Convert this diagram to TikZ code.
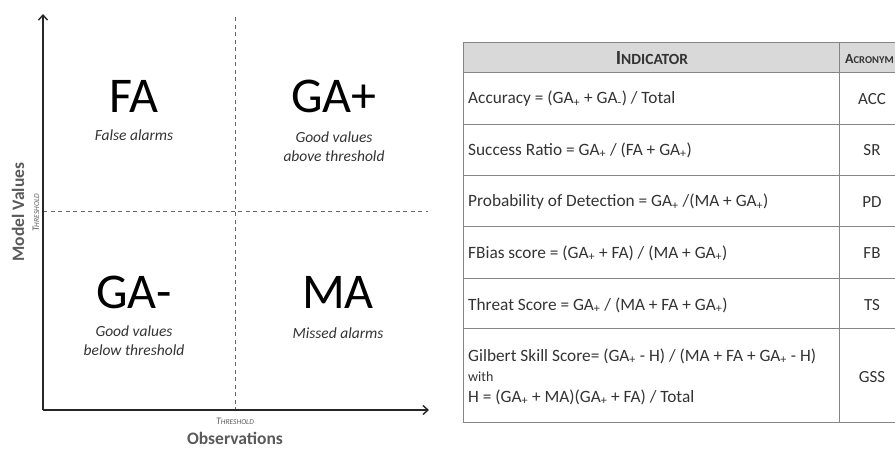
\documentclass[tikz,border=0pt]{standalone}
\usepackage{fontspec}
\setmainfont{Carlito}
\usetikzlibrary{arrows.meta}
\definecolor{txt}{HTML}{333333}
\definecolor{axlab}{HTML}{5A5A5A}
\definecolor{grid}{HTML}{858585}
\definecolor{head}{HTML}{D9D9D9}
\newcommand{\smc}[2]{{\fontsize{#1}{#1}\selectfont #2}}
\newcommand{\sbp}{\textsubscript{+}}
\begin{document}
\begin{tikzpicture}[x=1pt,y=-1pt,
  big/.style={font=\fontsize{50}{50}\selectfont, text=black, inner sep=0pt},
  lab/.style={font=\fontsize{15.5}{19}\selectfont\itshape, text=txt, align=center, inner sep=0pt},
  axis/.style={line width=1.4pt, black!85, -{Straight Barb[length=5pt,width=9pt,line width=1.4pt]}},
  thr/.style={dashed, dash pattern=on 4pt off 3.5pt, line width=0.8pt, black!60},
  axtitle/.style={font=\fontsize{17.5}{17.5}\selectfont\bfseries, text=axlab, inner sep=0pt},
  cell/.style={anchor=west, font=\fontsize{17.3}{20}\selectfont, text=txt, inner sep=0pt},
  acr/.style={font=\fontsize{17}{20}\selectfont, text=txt, inner sep=0pt},
  gridline/.style={line width=0.8pt, draw=grid}]
\useasboundingbox (0,0) rectangle (895,448);
\clip (0,0) rectangle (895,448);

% ---------- left panel ----------
\coordinate (O) at (43,410);
\coordinate (ytop) at (43,14);
\coordinate (xend) at (429,410);
\coordinate (vt) at (235,17);
\coordinate (vb) at (235,410);
\coordinate (hl) at (43,211);
\coordinate (hr) at (428,211);

\draw[thr] (vt) -- (vb);
\draw[thr] (hl) -- (hr);
\draw[axis] (O) -- (ytop);
\draw[axis] (O) -- (xend);

\node[big] (fa) at (134,96) {FA};
\node[lab] (fal) at (134,135) {False alarms};
\node[big] (gap) at (334,96) {GA+};
\node[lab] (gapl) at (334,147) {Good values\\above threshold};
\node[big] (gam) at (134,292) {GA-};
\node[lab] (gaml) at (134,341) {Good values\\below threshold};
\node[big] (ma) at (338,292) {MA};
\node[lab] (mal) at (338,333) {Missed alarms};

\node[axtitle, rotate=90] (mv) at (18,212) {Model Values};
\node[inner sep=0pt, rotate=90, text=axlab, font=\itshape] (thy) at (36,213) {\smc{10}{T}\smc{7.5}{HRESHOLD}};
\node[inner sep=0pt, text=axlab, font=\itshape] (thx) at (235,421) {\smc{10}{T}\smc{7.5}{HRESHOLD}};
\node[axtitle] (obs) at (235,438) {Observations};

% ---------- table ----------
\fill[head] (463,42) rectangle (895,72);
\draw[gridline] (463,42) -- (895,42);
\draw[gridline] (463,72) -- (895,72);
\draw[gridline] (463,124) -- (895,124);
\draw[gridline] (463,175) -- (895,175);
\draw[gridline] (463,226) -- (895,226);
\draw[gridline] (463,278) -- (895,278);
\draw[gridline] (463,328) -- (895,328);
\draw[gridline] (463,422) -- (895,422);
\draw[gridline] (463,42) -- (463,422);
\draw[gridline] (839,42) -- (839,422);

\node[inner sep=0pt, text=txt, font=\bfseries] (hind) at (652,58) {\smc{20}{I}\smc{15.5}{NDICATOR}};
\node[inner sep=0pt, text=txt, font=\bfseries, anchor=west] (hacr) at (845,59) {\smc{14}{A}\smc{10.5}{CRONYM}};

\node[cell] (c1) at (468,99) {Accuracy = (GA\sbp{} + GA\textsubscript{-}) / Total};
\node[acr] (a1) at (872,99) {ACC};
\node[cell] (c2) at (468,150) {Success Ratio = GA\sbp{} / (FA + GA\sbp)};
\node[acr] (a2) at (872,150) {SR};
\node[cell] (c3) at (468,202) {Probability of Detection = GA\sbp{} /(MA + GA\sbp)};
\node[acr] (a3) at (872,202) {PD};
\node[cell] (c4) at (468,253) {FBias score = (GA\sbp{} + FA) / (MA + GA\sbp)};
\node[acr] (a4) at (872,253) {FB};
\node[cell] (c5) at (468,305) {Threat Score = GA\sbp{} / (MA + FA + GA\sbp)};
\node[acr] (a5) at (872,305) {TS};
\node[cell] (c6) at (468,356) {Gilbert Skill Score= (GA\sbp{} - H) / (MA + FA + GA\sbp{} - H)};
\node[cell, font=\fontsize{14}{16}\selectfont] (c6w) at (468,377) {with};
\node[cell] (c6h) at (468,397) {H = (GA\sbp{} + MA)(GA\sbp{} + FA) / Total};
\node[acr] (a6) at (872,377) {GSS};
\end{tikzpicture}
\end{document}
